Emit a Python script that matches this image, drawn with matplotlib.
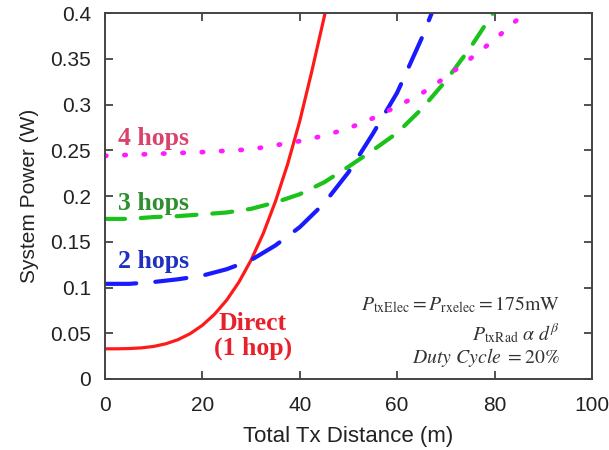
import matplotlib
matplotlib.use('Agg')
import matplotlib.pyplot as plt

# values
direct_x = [0, 2.5, 5, 7.5, 10, 12.5, 15, 17.5, 20, 22.5, 25, 27.5, 30, 32.5, 35, 37.5, 40, 42.5, 45.2]
direct_y = [0.033, 0.033, 0.0333, 0.034, 0.0356, 0.0385, 0.043, 0.0496, 0.0587, 0.0708, 0.0863, 0.1059,
            0.130, 0.159, 0.194, 0.2347, 0.282, 0.337, 0.400]

hop2_x = [0, 5, 10, 15, 20, 25, 30, 35, 40, 45, 50, 55, 60, 65, 67.1]
hop2_y = [0.104, 0.104, 0.106, 0.109, 0.113, 0.120, 0.130, 0.146, 0.166, 0.192, 0.226, 0.268, 0.313, 0.372, 0.4]

hop3_x = [0, 5, 10, 15, 20, 25, 30, 35, 40, 45, 50, 55, 60, 65, 70, 75, 79.7]
hop3_y = [0.175, 0.175, 0.177, 0.178, 0.180, 0.182, 0.186, 0.193, 0.202, 0.215, 0.232, 0.250, 0.269,
          0.295, 0.326, 0.362, 0.4]

hop4_x = [0, 10, 20, 30, 40, 45, 50, 55, 60, 65, 70, 75, 80, 84.5]
hop4_y = [0.244, 0.246, 0.248, 0.251, 0.260, 0.266, 0.274, 0.285, 0.298, 0.312, 0.330, 0.350, 0.371, 0.392]

x_ticks = [0, 20, 40, 60, 80, 100]
y_ticks = [0, 0.05, 0.1, 0.15, 0.2, 0.25, 0.3, 0.35, 0.4]
y_tick_labels = ['0', '0.05', '0.1', '0.15', '0.2', '0.25', '0.3', '0.35', '0.4']

plt.rcParams['font.family'] = ['Liberation Sans', 'DejaVu Sans']
plt.rcParams['mathtext.fontset'] = 'stix'

fig = plt.figure(figsize=(6.09, 4.5), dpi=100)
ax = fig.add_axes([0.1724, 0.1578, 0.7996, 0.8132])

ax.plot(direct_x, direct_y, color='#ff1a1a', linewidth=2.3, solid_capstyle='round')
ax.plot(hop2_x, hop2_y, color='#1a1aff', linewidth=3.0, linestyle=(0, (7.5, 4.6)), dash_capstyle='round')
ax.plot(hop3_x, hop3_y, color='#1ac21a', linewidth=3.0, linestyle=(0, (4.8, 3.8)), dash_capstyle='round')
ax.plot(hop4_x, hop4_y, color='#ff1aff', linewidth=3.4, linestyle=(0, (0.3, 3.8)), dash_capstyle='round')

serif = ['Liberation Serif', 'DejaVu Serif']
ax.text(2.7, 0.263, '4 hops', color='#d9436b', fontsize=18.5, fontweight='bold', family=serif, va='center')
ax.text(2.7, 0.192, '3 hops', color='#2f8f2f', fontsize=18.5, fontweight='bold', family=serif, va='center')
ax.text(2.7, 0.128, '2 hops', color='#1f2fc0', fontsize=18.5, fontweight='bold', family=serif, va='center')
ax.text(30.4, 0.047, 'Direct\n(1 hop)', color='#e8202a', fontsize=18.5, fontweight='bold', family=serif,
        ha='center', va='center', linespacing=1.05)

ax.text(93.4, 0.081, r'$P_{\mathrm{txElec}} = P_{\mathrm{rxelec}} = 175\mathrm{mW}$', fontsize=14.2,
        ha='right', va='center', color='#333333')
ax.text(93.4, 0.050, r'$P_{\mathrm{txRad}}\ \alpha\ d^{\beta}$', fontsize=14.2,
        ha='right', va='center', color='#333333')
ax.text(93.4, 0.024, r'$Duty\ Cycle\ \mathrm{= 20\%}$', fontsize=14.2,
        ha='right', va='center', color='#333333')

ax.set_xlim(0, 100)
ax.set_ylim(0, 0.4)
ax.set_xticks(x_ticks)
ax.set_yticks(y_ticks)
ax.set_yticklabels(y_tick_labels)
ax.tick_params(direction='in', length=6, width=1.2, top=True, right=True, labelsize=15,
               colors='#333333', labelcolor='#222222')
ax.tick_params(axis='x', pad=12)
ax.tick_params(axis='y', pad=10)
for s in ax.spines.values():
    s.set_linewidth(1.4)
    s.set_color('#444444')

ax.set_xlabel('Total Tx Distance (m)', fontsize=16, color='#222222', labelpad=8)
ax.set_ylabel('System Power (W)', fontsize=15, color='#222222', labelpad=8)

fig.savefig('out.png', dpi=100)
